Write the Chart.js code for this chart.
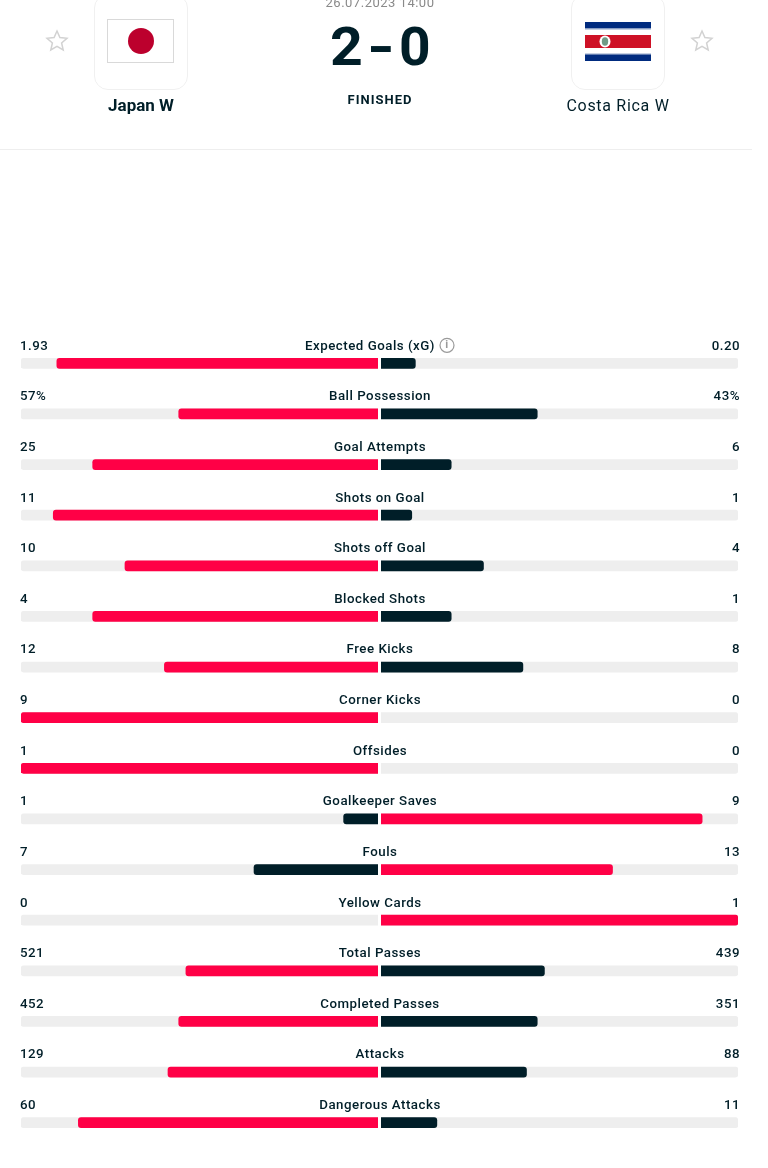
<!DOCTYPE html>
<html>
<head>
<meta charset="utf-8">
<title>Japan W - Costa Rica W</title>
<script src="https://cdn.jsdelivr.net/npm/chart.js@4"></script>
<style>
    html, body { margin: 0; padding: 0; background: #fff; overflow: hidden; }
    body { width: 768px; height: 1168px; position: relative; font-family: Roboto, sans-serif; color: #001e28; }
    #stats { position: absolute; left: 0; top: 0; }
    .abs { position: absolute; }
    .center { transform: translateX(-50%); white-space: nowrap; }
    .logo { width: 92px; height: 94px; top: -6px; border: 1px solid #f0f0f0; border-radius: 14px; box-sizing: content-box; }
    .rule { left: 0; top: 149px; width: 752px; height: 1px; background: #eeeeee; }
    .score { left: 330px; top: 16px; width: 100px; height: 62px; font-size: 53px; line-height: 62px; font-weight: 700; white-space: nowrap; }
    .score span { position: absolute; top: 0; display: inline-block; transform-origin: left center; }
</style>
</head>
<body>
<canvas id="stats" width="768" height="1168"></canvas>

<!-- Match header -->
<svg class="abs" style="left:45px;top:29px" width="24" height="24" viewBox="0 0 24 24"><path d="M12 2l2.9 6.6 7.1.7-5.4 4.7 1.6 7-6.2-3.7-6.2 3.7 1.6-7L2 9.3l7.1-.7z" fill="none" stroke="#d2d2d2" stroke-width="1.5"/></svg>
<svg class="abs" style="left:690px;top:29px" width="24" height="24" viewBox="0 0 24 24"><path d="M12 2l2.9 6.6 7.1.7-5.4 4.7 1.6 7-6.2-3.7-6.2 3.7 1.6-7L2 9.3l7.1-.7z" fill="none" stroke="#d2d2d2" stroke-width="1.5"/></svg>

<div class="abs logo" style="left:94px"></div>
<div class="abs logo" style="left:571px"></div>

<svg class="abs" style="left:107px;top:19px" width="68" height="45">
    <rect x="0.5" y="0.5" width="66" height="43" fill="#fff" stroke="#d9d9d9"/>
    <circle cx="34" cy="22" r="13" fill="#bc002d"/>
</svg>
<svg class="abs" style="left:585px;top:22px" width="66" height="39">
    <rect width="66" height="39" fill="#fff"/>
    <rect y="0" width="66" height="6.5" fill="#002b7f"/>
    <rect y="6.5" width="66" height="1" fill="#8fa3c8"/>
    <rect y="13" width="66" height="13" fill="#ce1126"/>
    <rect y="31.5" width="66" height="1" fill="#8fa3c8"/>
    <rect y="32.5" width="66" height="6.5" fill="#002b7f"/>
    <ellipse cx="20" cy="19.5" rx="5.5" ry="6" fill="#fff"/>
    <ellipse cx="20" cy="19.5" rx="3.2" ry="4.2" fill="#6f9a86"/>
</svg>

<div class="abs center" style="left:380px;top:-5px;font-size:13px;line-height:16px;color:#8a8a8a;letter-spacing:.5px">26.07.2023 14:00</div>
<div class="abs score"><span style="left:0;transform:scaleX(1.08)">2</span><span style="left:37px;transform:scaleX(1.35)">-</span><span style="left:69px;transform:scaleX(1.04)">0</span></div>
<div class="abs center" style="left:380px;top:92px;font-size:13px;line-height:15px;font-weight:700;letter-spacing:1px">FINISHED</div>
<div class="abs center" style="left:141px;top:96px;font-size:17px;line-height:19px;font-weight:700">Japan W</div>
<div class="abs center" style="left:618px;top:96px;font-size:16px;line-height:19px;letter-spacing:.7px">Costa Rica W</div>
<div class="abs rule"></div>

<script>
// Stat rows, top to bottom
const categories = [
    'Expected Goals (xG)', 'Ball Possession', 'Goal Attempts', 'Shots on Goal',
    'Shots off Goal', 'Blocked Shots', 'Free Kicks', 'Corner Kicks',
    'Offsides', 'Goalkeeper Saves', 'Fouls', 'Yellow Cards',
    'Total Passes', 'Completed Passes', 'Attacks', 'Dangerous Attacks'
];
const homeLabels = ['1.93', '57%', '25', '11', '10', '4', '12', '9', '1', '1', '7', '0', '521', '452', '129', '60'];
const awayLabels = ['0.20', '43%', '6', '1', '4', '1', '8', '0', '0', '9', '13', '1', '439', '351', '88', '11'];

// Bar lengths as share of each half track
const homeShare = [0.90, 0.56, 0.80, 0.91, 0.71, 0.80, 0.60, 1, 1, 0.10, 0.35, 0, 0.54, 0.56, 0.59, 0.84];
const awayShare = [0.10, 0.44, 0.20, 0.09, 0.29, 0.20, 0.40, 0, 0, 0.90, 0.65, 1, 0.46, 0.44, 0.41, 0.16];

const RED = '#ff0046';
const DARK = '#001e28';
const TRACK = '#eeeeee';
const INFO_ROW = 'Expected Goals (xG)';
const LABEL_FONT = '500 13.3px Roboto';

// White gap down the middle plus the text above every bar
const rowText = {
    id: 'rowText',
    afterDatasetsDraw(chart) {
        const { ctx, chartArea, scales: { x, y } } = chart;
        const mid = x.getPixelForValue(0);
        ctx.save();
        ctx.fillStyle = '#fff';
        ctx.fillRect(mid - 1.5, chartArea.top, 3, chartArea.bottom - chartArea.top);

        ctx.fillStyle = DARK;
        ctx.font = LABEL_FONT;
        ctx.letterSpacing = '0.5px';
        ctx.textBaseline = 'middle';
        categories.forEach((name, i) => {
            const ty = y.getPixelForValue(i) - 17;
            ctx.textAlign = 'left';
            ctx.fillText(homeLabels[i], 20, ty);
            ctx.textAlign = 'right';
            ctx.fillText(awayLabels[i], 740, ty);
            ctx.textAlign = 'center';
            const shift = name === INFO_ROW ? -10 : 0;
            ctx.fillText(name, 380 + shift, ty);
            if (name === INFO_ROW) {
                // info icon
                ctx.strokeStyle = '#9a9a9a';
                ctx.lineWidth = 1.2;
                ctx.beginPath();
                ctx.arc(447, ty - 1, 7, 0, Math.PI * 2);
                ctx.stroke();
                ctx.fillStyle = '#9a9a9a';
                ctx.font = '700 11px Roboto';
                ctx.fillText('i', 447, ty - 1);
                ctx.fillStyle = DARK;
                ctx.font = LABEL_FONT;
            }
        });
        ctx.restore();
    }
};

const outerLeft = { topLeft: 3, bottomLeft: 3, topRight: 0, bottomRight: 0 };
const outerRight = { topLeft: 0, bottomLeft: 0, topRight: 3, bottomRight: 3 };

new Chart(document.getElementById('stats'), {
    type: 'bar',
    data: {
        labels: categories,
        datasets: [
            { data: categories.map(() => [-1, 0]), backgroundColor: TRACK, borderRadius: outerLeft, borderSkipped: false, order: 4 },
            { data: categories.map(() => [0, 1]), backgroundColor: TRACK, borderRadius: outerRight, borderSkipped: false, order: 3 },
            {
                data: homeShare.map(v => [-v, 0]),
                backgroundColor: homeShare.map((v, i) => v >= awayShare[i] ? RED : DARK),
                borderRadius: outerLeft, borderSkipped: false, order: 2
            },
            {
                data: awayShare.map(v => [0, v]),
                backgroundColor: awayShare.map((v, i) => v > homeShare[i] ? RED : DARK),
                borderRadius: outerRight, borderSkipped: false, order: 1
            }
        ]
    },
    options: {
        indexAxis: 'y',
        responsive: false,
        animation: false,
        layout: { padding: { left: 21, right: 30, top: 338, bottom: 20 } },
        datasets: { bar: { grouped: false, barThickness: 10 } },
        plugins: { legend: { display: false }, tooltip: { enabled: false } },
        scales: {
            x: { display: false, min: -1, max: 1 },
            y: { display: false }
        }
    },
    plugins: [rowText]
});
</script>
</body>
</html>
